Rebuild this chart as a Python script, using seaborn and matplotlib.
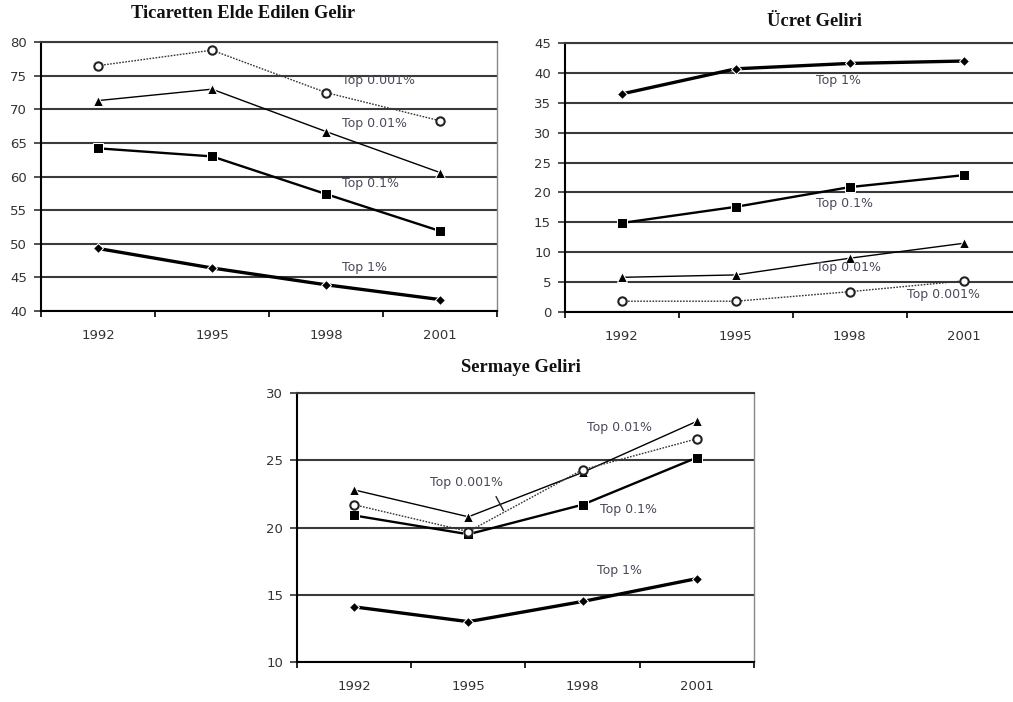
import matplotlib
matplotlib.use("Agg")
import matplotlib.pyplot as plt
import seaborn as sns
import pandas as pd

sns.set_theme(style="white")
plt.rcParams["font.family"] = ["DejaVu Sans"]

years = ["1992", "1995", "1998", "2001"]
groups = ["Top 1%", "Top 0.1%", "Top 0.01%", "Top 0.001%"]

# Ticaretten Elde Edilen Gelir
trade_top1 = [49.3, 46.4, 43.9, 41.7]
trade_top01 = [64.2, 63.0, 57.4, 51.9]
trade_top001 = [71.3, 73.0, 66.7, 60.6]
trade_top0001 = [76.5, 78.8, 72.5, 68.3]

# Ücret Geliri
wage_top1 = [36.5, 40.7, 41.6, 42.0]
wage_top01 = [14.9, 17.6, 20.9, 22.9]
wage_top001 = [5.8, 6.2, 9.0, 11.5]
wage_top0001 = [1.8, 1.8, 3.4, 5.2]

# Sermaye Geliri
cap_top1 = [14.1, 13.0, 14.5, 16.2]
cap_top01 = [20.9, 19.5, 21.7, 25.2]
cap_top001 = [22.8, 20.8, 24.1, 27.9]
cap_top0001 = [21.7, 19.7, 24.3, 26.6]

styles = {
    "Top 1%": dict(marker="D", markersize=5.5, linewidth=2.4, linestyle="-",
                   color="black", markerfacecolor="black"),
    "Top 0.1%": dict(marker="s", markersize=7, linewidth=1.7, linestyle="-",
                     color="black", markerfacecolor="black"),
    "Top 0.01%": dict(marker="^", markersize=7.5, linewidth=1.0, linestyle="-",
                      color="black", markerfacecolor="black"),
    "Top 0.001%": dict(marker="o", markersize=6, linewidth=1.0, linestyle=(0, (1.2, 1.0)),
                       color="#333333", markerfacecolor="white",
                       markeredgewidth=1.5, markeredgecolor="#222222"),
}

panels = [
    dict(title="Ticaretten Elde Edilen Gelir", series=[trade_top1, trade_top01, trade_top001, trade_top0001],
         ylim=(40, 80), step=5, rect=[0.0405, 0.557, 0.450, 0.383],
         title_xy=(0.240, 0.981),
         labels={"Top 0.001%": (2.14, 74.35), "Top 0.01%": (2.14, 67.96),
                 "Top 0.1%": (2.14, 59.0), "Top 1%": (2.14, 46.4)}),
    dict(title="Ücret Geliri", series=[wage_top1, wage_top01, wage_top001, wage_top0001],
         ylim=(0, 45), step=5, rect=[0.5577, 0.5556, 0.450, 0.383],
         title_xy=(0.804, 0.969),
         labels={"Top 1%": (1.70, 38.8), "Top 0.1%": (1.70, 18.1),
                 "Top 0.01%": (1.70, 7.4), "Top 0.001%": (2.50, 2.9)}),
    dict(title="Sermaye Geliri", series=[cap_top1, cap_top01, cap_top001, cap_top0001],
         ylim=(10, 30), step=5, rect=[0.2932, 0.057, 0.451, 0.383],
         title_xy=(0.514, 0.477),
         labels={"Top 0.01%": (2.04, 27.47), "Top 0.001%": (0.66, 23.38),
                 "Top 0.1%": (2.15, 21.38), "Top 1%": (2.13, 16.77)}),
]

fig = plt.figure(figsize=(10.13, 7.02), dpi=100)
fig.patch.set_facecolor("white")

text_color = "#4a4a5a"

for p in panels:
    ax = fig.add_axes(p["rect"])
    ax.set_facecolor("white")
    lo, hi = p["ylim"]
    for g, vals in zip(groups, p["series"]):
        df = pd.DataFrame({"x": range(len(years)), "y": vals})
        sns.lineplot(data=df, x="x", y="y", ax=ax, **styles[g])
    ax.set_xlim(-0.5, len(years) - 0.5)
    ax.set_ylim(lo, hi)
    ax.set_yticks(range(lo, hi + 1, p["step"]))
    ax.yaxis.grid(True, color="#3a3a3a", linewidth=1.5)
    ax.set_axisbelow(True)
    # category boundaries carry the tick marks, centres carry the year labels
    ax.set_xticks([i - 0.5 for i in range(len(years) + 1)])
    ax.set_xticklabels([])
    ax.set_xticks(range(len(years)), minor=True)
    ax.set_xticklabels(years, minor=True, fontsize=9.5, color="#333333")
    ax.tick_params(axis="x", which="major", direction="out", length=4, width=1.2,
                   color="black", bottom=True)
    ax.tick_params(axis="x", which="minor", length=0, pad=13)
    ax.tick_params(axis="y", direction="out", length=5, width=1.2, color="#333333",
                   left=True, labelsize=9.5, labelcolor="#333333", pad=5)
    ax.set_xlabel("")
    ax.set_ylabel("")
    for side in ("left", "bottom"):
        ax.spines[side].set_color("black")
        ax.spines[side].set_linewidth(1.5)
    ax.spines["right"].set_color("#888888")
    ax.spines["right"].set_linewidth(1.0)
    ax.spines["top"].set_color("#3a3a3a")
    ax.spines["top"].set_linewidth(1.5)
    for g, (lx, ly) in p["labels"].items():
        ax.text(lx, ly, g, fontsize=9, color=text_color, va="center", ha="left")
    fig.text(p["title_xy"][0], p["title_xy"][1], p["title"], ha="center", va="center",
             fontsize=13.3, fontweight="bold", family="Liberation Serif", color="#111111")
    if p["title"] == "Sermaye Geliri":
        ax.annotate("", xy=(1.319, 21.08), xytext=(1.231, 22.49),
                    arrowprops=dict(arrowstyle="-", color="#222222", linewidth=1.0))

fig.savefig("out.png", dpi=100, facecolor="white")
